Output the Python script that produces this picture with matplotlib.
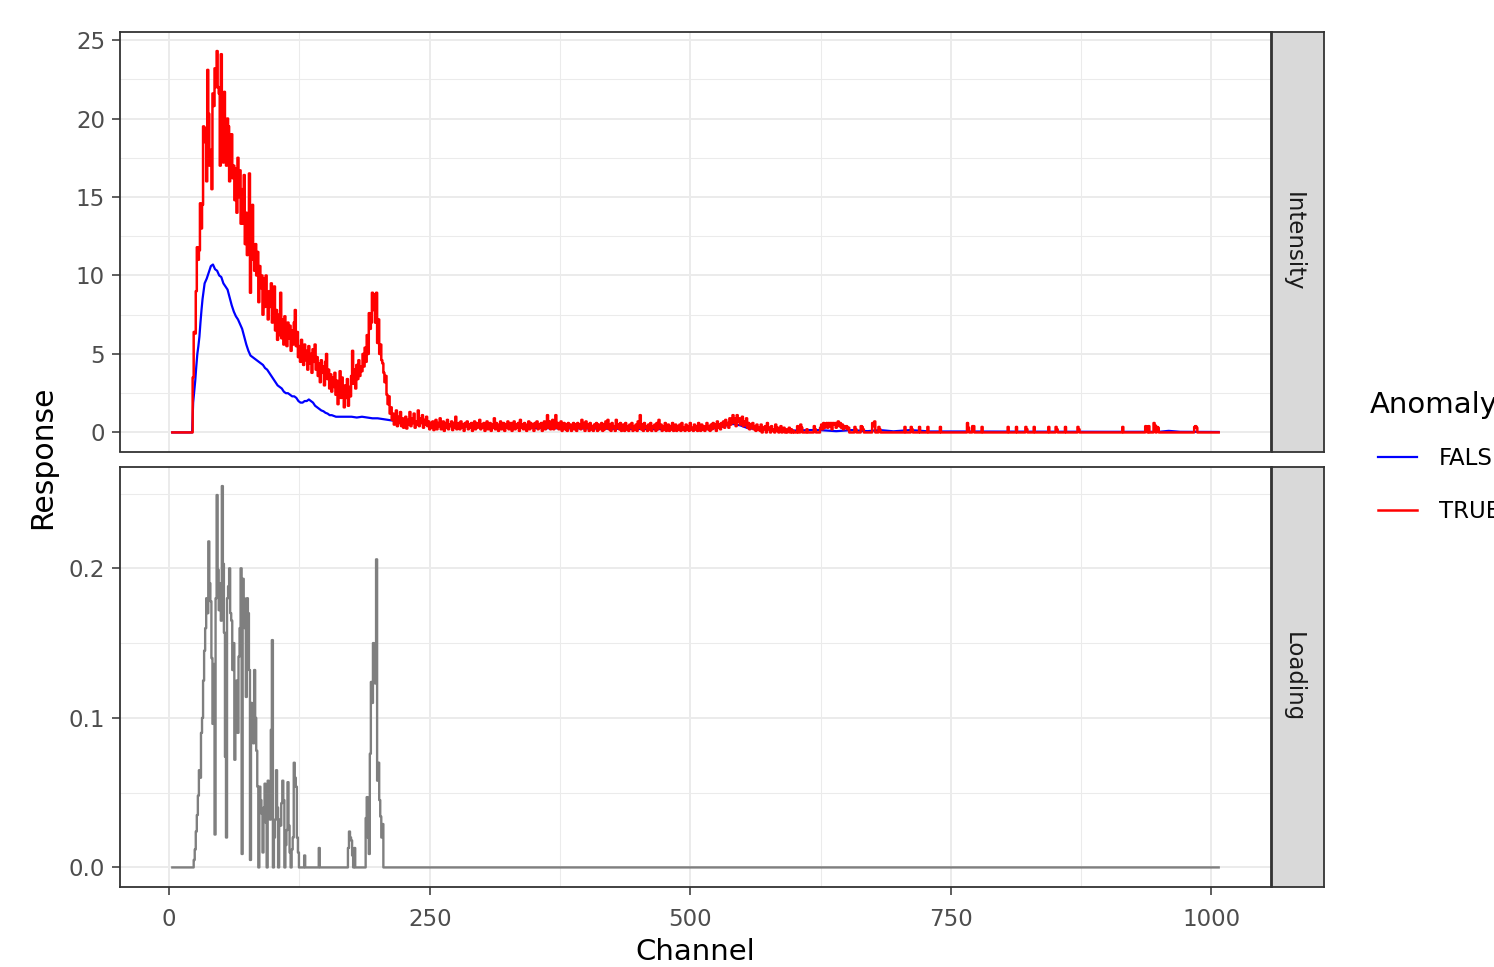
import matplotlib
matplotlib.use("Agg")
import matplotlib.pyplot as plt
from matplotlib.ticker import FixedLocator, FormatStrFormatter
import numpy as np

# ---------------- data ----------------
first_channel = 3
last_channel = 1007

# TRUE spectrum (red), one value per channel from 3 to 600
red_dense = [
    0, 0, 0, 0, 0, 0, 0, 0, 0, 0, 0, 0, 0, 0, 0, 0, 0, 0, 0, 0,       # 3-22
    3.5, 6.4, 6.3, 9.0, 11.8, 11.0, 11.6,                              # 23-29
    14.6, 13.0, 14.5, 19.5, 18.5, 19.4, 16.0, 23.1, 20.3, 17.0,        # 30-39
    18.0, 15.5, 21.6, 20.8, 23.2, 22.0, 24.3, 22.0, 21.6, 17.0,        # 40-49
    24.1, 21.0, 17.2, 21.7, 18.6, 17.0, 20.0, 19.5, 16.0, 17.6,        # 50-59
    19.0, 16.2, 17.0, 14.8, 16.8, 14.0, 17.5, 15.0, 16.7, 13.3,        # 60-69
    15.5, 13.3, 16.4, 12.0, 14.0, 11.3, 13.5, 16.5, 8.9, 12.5,         # 70-79
    14.5, 11.0, 10.3, 12.0, 10.0, 11.5, 8.3, 10.6, 9.2, 10.0,          # 80-89
    7.5, 9.8, 8.0, 10.0, 8.6, 7.2, 9.0, 8.0, 9.5, 7.0,                 # 90-99
    8.5, 9.3, 6.5, 7.8, 5.9, 7.5, 6.2, 8.9, 6.0, 7.2,                  # 100-109
    5.6, 7.4, 6.5, 5.5, 7.0, 6.0, 6.8, 5.2, 6.5, 5.6,                  # 110-119
    7.0, 7.8, 5.5, 6.4, 4.8, 5.5, 4.5, 5.9, 5.0, 4.3,                  # 120-129
    5.6, 4.6, 5.2, 4.0, 5.5, 4.4, 5.0, 3.8, 5.3, 4.5,                  # 130-139
    5.6, 4.0, 4.8, 3.6, 4.4, 3.2, 4.6, 3.8, 4.2, 3.0,                  # 140-149
    4.5, 5.0, 3.4, 4.0, 2.8, 3.7, 2.6, 3.5, 2.9, 3.8,                  # 150-159
    2.4, 3.3, 1.8, 2.6, 3.9, 2.2, 3.5, 2.7, 1.6, 3.0,                  # 160-169
    2.2, 3.4, 1.7, 2.9, 2.3, 3.6, 5.2, 3.1, 4.0, 2.8,                  # 170-179
    4.3, 3.4, 4.6, 3.6, 4.2, 3.9, 5.0, 4.2, 5.4, 4.5,                  # 180-189
    6.2, 5.0, 7.6, 6.6, 7.0, 8.9, 7.8, 8.8, 7.0, 8.9,                  # 190-199
    5.7, 7.2, 5.0, 5.6, 4.6, 4.4, 3.8, 3.2, 3.6, 2.4,                  # 200-209
    1.8, 2.3, 1.2, 1.6, 0.8, 1.2, 0.5, 0.9, 1.4, 0.4,                  # 210-219
    1.0,                                                               # 220
    0.6, 1.3, 0.4, 0.9, 0.3, 0.7, 1.0, 0.25, 0.8, 0.5, 1.3, 0.4, 0.9, 0.6, 1.2, 0.3, 0.7, 0.5, 1.4, 0.4,
    0.9, 0.6, 1.1, 0.3, 0.8, 0.5, 1.0, 0.4, 0.7, 0.2, 0.6, 0.3, 0.7, 0.15, 0.5, 0.8, 0.2, 0.6, 0.4, 0.9,
    0.2, 0.5, 0.7, 0.1, 0.6, 0.3, 0.8, 0.2, 0.5, 0.4, 0.7, 0.15, 0.6, 0.3, 1.0, 0.2, 0.5, 0.6, 0.2, 0.7,
    0.3, 0.5, 0.1, 0.6, 0.4, 0.7, 0.2, 0.5, 0.3, 0.6, 0.1, 0.5, 0.7, 0.2, 0.6, 0.3, 0.4, 0.8, 0.2, 0.5,
    0.3, 0.6, 0.1, 0.5, 0.7, 0.2, 0.4, 0.6, 0.1, 0.5, 0.3, 0.9, 0.2, 0.6, 0.4, 0.1, 0.5, 0.7, 0.2, 0.4,
    0.6, 0.1, 0.5, 0.3, 0.7, 0.2, 0.5, 0.6, 0.1, 0.4, 0.7, 0.2, 0.5, 0.3, 0.6, 0.1, 0.8, 0.3, 0.5, 0.2,
    0.6, 0.4, 0.1, 0.5, 0.7, 0.2, 0.6, 0.3, 0.5, 0.1, 0.6, 0.4, 0.7, 0.2, 0.5, 0.3, 0.6, 0.1, 0.5, 0.7,
    0.2, 0.6, 1.1, 0.3, 0.7, 0.2, 0.5, 0.8, 0.2, 0.6, 1.1, 0.3, 0.6, 0.2, 0.5, 0.7, 0.1, 0.4, 0.6, 0.2,
    0.5, 0.1, 0.6, 0.3, 0.5, 0.1, 0.4, 0.6, 0.2, 0.5, 0.1, 0.6, 0.3, 0.5, 0.2, 0.8, 0.3, 0.6, 0.1, 0.7,
    0.3, 0.5, 0.1, 0.6, 0.2, 0.4, 0.1, 0.5, 0.3, 0.6, 0.1, 0.5, 0.2, 0.4, 0.6, 0.1, 0.5, 0.2, 0.7, 0.3,
    0.8, 0.2, 0.5, 0.1, 0.6, 0.3, 0.4, 0.1, 0.8, 0.3, 0.5, 0.2, 0.6, 0.1, 0.4, 0.5, 0.1, 0.6, 0.2, 0.4,
    0.1, 0.5, 0.3, 0.6, 0.1, 0.4, 0.2, 0.5, 0.1, 0.7, 0.3, 1.1, 0.2, 0.5, 0.1, 0.6, 0.3, 0.4, 0.1, 0.5,
    0.2, 0.6, 0.1, 0.4, 0.3, 0.5, 0.1, 0.6, 0.2, 0.8, 0.3, 0.5, 0.1, 0.4, 0.2, 0.6, 0.1, 0.3, 0.5, 0.1,
    0.4, 0.2, 0.6, 0.1, 0.3, 0.5, 0.1, 0.4, 0.2, 0.5, 0.1, 0.6, 0.2, 0.3, 0.1, 0.5, 0.2, 0.4, 0.1, 0.6,
    0.2, 0.3, 0.1, 0.5, 0.2, 0.4, 0.1, 0.6, 0.3, 0.1, 0.5, 0.2, 0.4, 0.1, 0.3, 0.6, 0.2, 0.4, 0.1, 0.5,
    0.2, 0.6, 0.3, 0.5, 0.1, 0.7, 0.3, 0.5, 0.2, 0.6, 0.4, 0.7, 0.3, 0.8, 0.5, 0.6, 0.3, 0.9, 0.5, 0.8,
    1.1, 0.6, 0.9, 0.4, 1.1, 0.7, 0.9, 0.5, 0.8, 1.0, 0.4, 0.7, 0.5, 0.9, 0.3, 0.6, 0.2, 0.5, 0.3, 0.6,
    0.2, 0.4, 0.1, 0.5, 0.2, 0.3, 0.1, 0.5, 0.0, 0.3, 0.2, 0.4, 0.0, 0.6, 0.2, 0.3, 0.0, 0.4, 0.1, 0.2,
    0.0, 0.5, 0.1, 0.3, 0.0, 0.2, 0.4, 0.0, 0.1, 0.3, 0.0, 0.2, 0.0, 0.1, 0.3, 0.0, 0.2, 0.0, 0.1, 0.0,
]

# TRUE spectrum beyond channel 600: zero except these channels
red_tail_ch = [603, 606, 607, 612, 619, 620,
               625, 626, 627, 628, 629, 630, 631, 632, 633, 634, 635, 636, 637, 638,
               639, 640, 641, 642, 643, 644, 645, 646, 647, 648, 649, 650, 651, 652,
               658, 659, 664, 665, 666, 675, 676, 677, 681, 682, 706, 712, 713, 720,
               728, 740, 766, 767, 771, 772, 780, 805, 813, 822, 823, 830, 844, 851,
               852, 860, 872, 873, 915, 937, 938, 940, 945, 946, 948, 949, 984, 985, 986]
red_tail_val = [0.4, 0.5, 0.3, 0.2, 0.4, 0.2,
                0.3, 0.5, 0.2, 0.6, 0.3, 0.5, 0.6, 0.3, 0.6, 0.4, 0.6, 0.2, 0.6, 0.5,
                0.6, 0.3, 0.6, 0.7, 0.4, 0.6, 0.3, 0.5, 0.2, 0.4, 0.3, 0.4, 0.2, 0.3,
                0.35, 0.2, 0.4, 0.35, 0.2, 0.6, 0.4, 0.7, 0.35, 0.2, 0.35, 0.35, 0.2, 0.35,
                0.35, 0.35, 0.6, 0.3, 0.4, 0.4, 0.35, 0.35, 0.35, 0.35, 0.2, 0.35, 0.35, 0.35,
                0.2, 0.35, 0.35, 0.2, 0.35, 0.4, 0.35, 0.4, 0.6, 0.45, 0.35, 0.3, 0.35, 0.4, 0.3]

# FALSE spectrum (blue)
blue_ch = [3, 22, 23, 24, 25, 26, 27, 28, 29, 30, 31, 32, 33, 34, 36, 38, 40, 42, 44, 46,
           48, 50, 52, 54, 56, 58, 60, 62, 64, 66, 68, 70, 72, 74, 76, 78, 80, 82, 84, 86,
           88, 90, 92, 94, 96, 98, 100, 102, 104, 106, 108, 110, 112, 114, 116, 118, 120, 122, 124, 126,
           128, 130, 132, 134, 136, 138, 140, 142, 144, 146, 148, 150, 152, 154, 156, 158, 160, 162, 165, 170,
           175, 180, 185, 190, 195, 200, 205, 210, 215, 220, 230, 240, 250, 260, 280, 300, 330, 360, 400, 450,
           500, 520, 530, 540, 548, 556, 580, 600, 615, 624, 640, 655, 670, 682, 695, 711, 730, 760, 820, 900,
           950, 959, 970, 1007]
blue_val = [0, 0, 1.9, 2.6, 3.3, 4.2, 5.0, 5.5, 6.1, 7.0, 7.8, 8.5, 9.0, 9.5, 9.8, 10.2, 10.6, 10.7, 10.4, 10.3,
            10.0, 9.9, 9.5, 9.3, 9.1, 8.6, 8.1, 7.7, 7.4, 7.2, 6.9, 6.6, 6.1, 5.6, 5.2, 4.9, 4.8, 4.7, 4.6, 4.5,
            4.4, 4.3, 4.1, 4.0, 3.8, 3.6, 3.4, 3.2, 3.0, 2.9, 2.8, 2.6, 2.5, 2.5, 2.4, 2.3, 2.3, 2.2, 2.0, 1.9,
            1.9, 2.0, 2.0, 2.1, 2.0, 1.9, 1.7, 1.6, 1.5, 1.4, 1.35, 1.25, 1.2, 1.1, 1.1, 1.05, 1.0, 1.0, 1.0, 1.0,
            1.0, 0.95, 1.0, 0.95, 0.9, 0.9, 0.85, 0.8, 0.75, 0.7, 0.7, 0.65, 0.5, 0.45, 0.4, 0.35, 0.3, 0.27, 0.25, 0.22,
            0.2, 0.22, 0.35, 0.55, 0.45, 0.25, 0.2, 0.12, 0.15, 0.15, 0.08, 0.15, 0.08, 0.15, 0.07, 0.15, 0.06, 0.06, 0.05, 0.04,
            0.04, 0.1, 0.04, 0.03]

# Loading (grey), one value per channel from 3 to 210, zero afterwards
loading_dense = [
    0, 0, 0, 0, 0, 0, 0, 0, 0, 0, 0, 0, 0, 0, 0, 0, 0, 0, 0, 0, 0,                   # 3-23
    0.005, 0.012, 0.024, 0.035, 0.048, 0.065,                                         # 24-29
    0.06, 0.09, 0.1, 0.125, 0.145, 0.16, 0.18, 0.17, 0.218, 0.19,                     # 30-39
    0.178, 0.14, 0.096, 0.136, 0.022, 0.18, 0.249, 0.199, 0.172, 0.19,                # 40-49
    0.165, 0.255, 0.203, 0.157, 0.074, 0.02, 0.18, 0.188, 0.2, 0.17,                  # 50-59
    0.165, 0.132, 0.15, 0.072, 0.114, 0.125, 0.09, 0.141, 0.16, 0.2,                  # 60-69
    0.009, 0.193, 0.18, 0.16, 0.114, 0.18, 0.17, 0.132, 0.005, 0.11,                  # 70-79
    0.095, 0.083, 0.132, 0.1, 0.078, 0.054, 0.0, 0.054, 0.045, 0.036,                 # 80-89
    0.01, 0.04, 0.056, 0.03, 0.0, 0.058, 0.045, 0.032, 0.092, 0.152,                  # 90-99
    0.0, 0.02, 0.032, 0.065, 0.04, 0.0, 0.032, 0.028, 0.043, 0.058,                   # 100-109
    0.045, 0.0, 0.015, 0.025, 0.057, 0.028, 0.01, 0.0, 0.012, 0.02,                   # 110-119
    0.07, 0.06, 0.054, 0.02, 0.01, 0, 0, 0, 0, 0,                                     # 120-129
    0.008, 0, 0, 0, 0, 0, 0, 0, 0, 0,                                                 # 130-139
    0, 0, 0, 0, 0.013, 0, 0, 0, 0, 0,                                                 # 140-149
    0, 0, 0, 0, 0, 0, 0, 0, 0, 0,                                                     # 150-159
    0, 0, 0, 0, 0, 0, 0, 0, 0, 0,                                                     # 160-169
    0, 0, 0.013, 0.024, 0.02, 0.018, 0.008, 0.0, 0.013, 0.0,                          # 170-179
    0, 0, 0, 0, 0, 0, 0, 0, 0, 0.033,                                                 # 180-189
    0.047, 0.02, 0.009, 0.076, 0.124, 0.11, 0.15, 0.135, 0.123, 0.206,                # 190-199
    0.058, 0.07, 0.045, 0.034, 0.02, 0.029, 0, 0, 0, 0,                               # 200-209
    0,                                                                                # 210
]

x_ticks = [0, 250, 500, 750, 1000]
x_minor = [125, 375, 625, 875]
top_ticks = [0, 5, 10, 15, 20, 25]
top_minor = [2.5, 7.5, 12.5, 17.5, 22.5]
bot_ticks = [0.0, 0.1, 0.2]
bot_minor = [0.05, 0.15, 0.25]

# ---------------- full per-channel series ----------------
channel = np.arange(first_channel, last_channel + 1)
red_full = np.zeros(len(channel))
red_full[:len(red_dense)] = red_dense
red_full[np.array(red_tail_ch) - first_channel] = red_tail_val
loading_full = np.zeros(len(channel))
loading_full[:len(loading_dense)] = loading_dense

# ---------------- figure ----------------
W, H = 1494, 967
fig = plt.figure(figsize=(W / 100, H / 100), dpi=100, facecolor="white")


def box(x0, y0, x1, y1):
    return [x0 / W, 1 - y1 / H, (x1 - x0) / W, (y1 - y0) / H]


ax_top = fig.add_axes(box(120, 32, 1271, 451.5))
ax_bot = fig.add_axes(box(120, 467, 1271, 886.5), sharex=ax_top)

line_false, = ax_top.plot(blue_ch, blue_val, color="#0000FF", lw=1.6, label="FALSE")
line_true, = ax_top.plot(channel, red_full, color="#FF0000", lw=1.8,
                         drawstyle="steps-mid", label="TRUE")
ax_bot.plot(channel, loading_full, color="#7F7F7F", lw=1.7, drawstyle="steps-mid")

for ax, maj, mnr in [(ax_top, top_ticks, top_minor), (ax_bot, bot_ticks, bot_minor)]:
    ax.margins(x=0.05, y=0.05)
    ax.set_facecolor("white")
    ax.xaxis.set_major_locator(FixedLocator(x_ticks))
    ax.xaxis.set_minor_locator(FixedLocator(x_minor))
    ax.yaxis.set_major_locator(FixedLocator(maj))
    ax.yaxis.set_minor_locator(FixedLocator(mnr))
    ax.grid(which="major", color="#EBEBEB", lw=1.4)
    ax.grid(which="minor", color="#EBEBEB", lw=0.75)
    ax.set_axisbelow(True)
    for s in ax.spines.values():
        s.set_color("#333333")
        s.set_linewidth(1.3)
    ax.tick_params(which="major", length=5.8, width=1.1, color="#333333",
                   labelsize=16.5, labelcolor="#4D4D4D")
    ax.tick_params(axis="y", which="major", pad=5)
    ax.tick_params(axis="x", which="major", pad=9.5)
    ax.tick_params(which="minor", length=0)

ax_bot.yaxis.set_major_formatter(FormatStrFormatter("%.1f"))
ax_top.tick_params(axis="x", which="both", bottom=False, labelbottom=False)

# facet strips
for (y0, y1), name in [((32, 451.5), "Intensity"), ((467, 886.5), "Loading")]:
    st = fig.add_axes(box(1272, y0, 1324, y1))
    st.set_facecolor("#D9D9D9")
    st.set_xticks([])
    st.set_yticks([])
    for s in st.spines.values():
        s.set_color("#333333")
        s.set_linewidth(1.3)
    st.text(0.40, 0.5, name, rotation=-90, ha="center", va="center",
            fontsize=16.5, color="#1A1A1A", transform=st.transAxes)

fig.supylabel("Response", x=43 / W, y=1 - 457 / H, fontsize=21.5, va="center", ha="center")
fig.supxlabel("Channel", x=695 / W, y=1 - 952 / H, fontsize=21, va="center", ha="center")

# legend: title as its own text, keys indented below it like ggplot
fig.text(1370 / W, 1 - 405 / H, "Anomaly", fontsize=21, va="center", ha="left")
fig.legend(handles=[line_false, line_true],
           loc="upper left", bbox_to_anchor=(1378 / W, 1 - 447 / H),
           frameon=False, fontsize=16.5,
           handlelength=1.7, handletextpad=0.95, labelspacing=1.3,
           borderpad=0, borderaxespad=0)

fig.savefig("out.png", dpi=100)
